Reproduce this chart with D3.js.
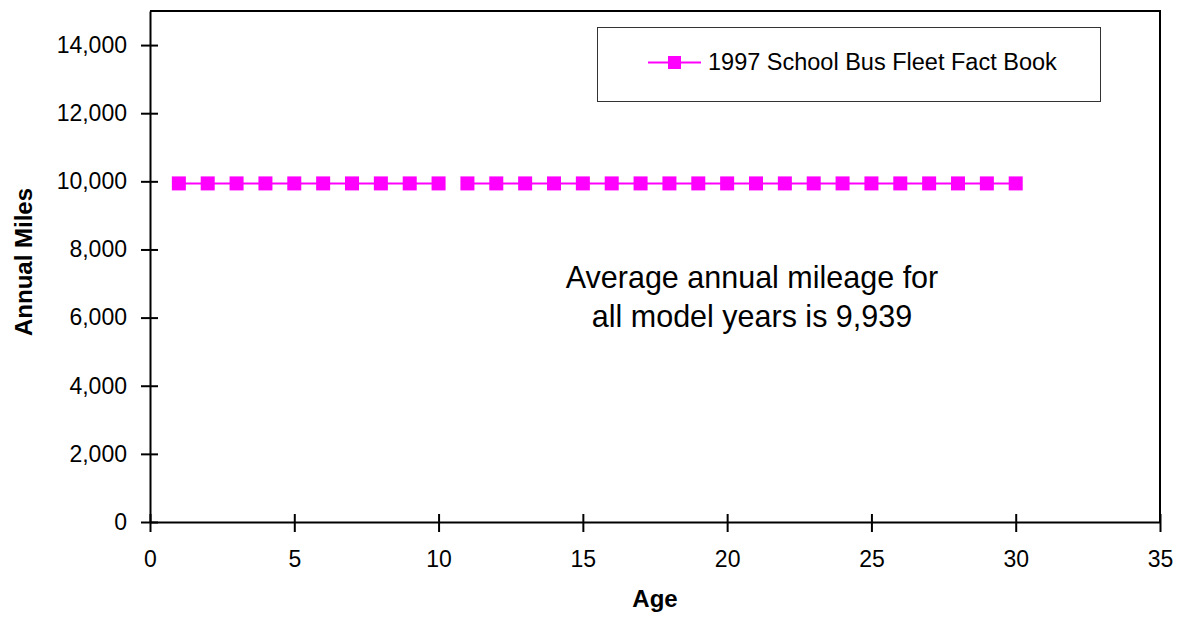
<!DOCTYPE html>
<html>
<head>
<meta charset="utf-8">
<script src="https://cdn.jsdelivr.net/npm/d3@7"></script>
<style>
  html, body { margin: 0; padding: 0; background: #fff; }
  svg { display: block; font-family: "Liberation Sans", Arial, sans-serif; }
</style>
</head>
<body>
<svg id="chart" width="1183" height="618"></svg>
<script>
// ---- Data ----
const ages = [1,2,3,4,5,6,7,8,9,10,11,12,13,14,15,16,17,18,19,20,21,22,23,24,25,26,27,28,29,30];
const annualMiles = [9939,9939,9939,9939,9939,9939,9939,9939,9939,9939,9939,9939,9939,9939,9939,9939,9939,9939,9939,9939,9939,9939,9939,9939,9939,9939,9939,9939,9939,9939];
const lineBreakAfterAge = 10; // connecting line is interrupted between age 10 and 11
const seriesName = "1997 School Bus Fleet Fact Book";
const xTicks = [0,5,10,15,20,25,30,35];
const yTicks = [0,2000,4000,6000,8000,10000,12000,14000];
const xTitle = "Age";
const yTitle = "Annual Miles";
const noteLines = ["Average annual mileage for", "all model years is 9,939"];

// ---- Layout ----
const svg = d3.select("#chart");
const pL = 150, pR = 1160, pT = 11, pB = 522;
const color = "#ff00ff";

const x = d3.scaleLinear().domain([0, 35]).range([pL, pR]);
const y = d3.scaleLinear().domain([0, 15000]).range([pB, pT]);

// plot frame (top + right)
svg.append("path")
  .attr("d", `M${pL},${pT}H${pR}V${pB}`)
  .attr("fill", "none").attr("stroke", "#000").attr("stroke-width", 2);

// y axis
const yAxis = svg.append("g").attr("transform", `translate(${pL},0)`)
  .call(d3.axisLeft(y).tickValues(yTicks).tickFormat(d3.format(",")).tickSizeOuter(0).tickSizeInner(0).tickPadding(23));
yAxis.select(".domain").attr("stroke", "#000").attr("stroke-width", 2);
yAxis.selectAll(".tick").append("line")
  .attr("x1", -9).attr("x2", 8).attr("stroke", "#000").attr("stroke-width", 2);
yAxis.selectAll("text").attr("font-size", 23).attr("fill", "#000")
  .attr("font-family", "Liberation Sans, Arial, sans-serif");

// x axis
const xAxis = svg.append("g").attr("transform", `translate(0,${pB})`)
  .call(d3.axisBottom(x).tickValues(xTicks).tickFormat(d3.format("d")).tickSizeOuter(0).tickSizeInner(0).tickPadding(29));
xAxis.select(".domain").attr("stroke", "#000").attr("stroke-width", 2);
xAxis.selectAll(".tick").append("line")
  .attr("y1", -8).attr("y2", 10).attr("stroke", "#000").attr("stroke-width", 2);
xAxis.selectAll("text").attr("font-size", 23).attr("fill", "#000")
  .attr("font-family", "Liberation Sans, Arial, sans-serif");

// axis titles
svg.append("text").attr("x", 655).attr("y", 607)
  .attr("text-anchor", "middle").attr("font-size", 24).attr("font-weight", "bold")
  .text(xTitle);
svg.append("text")
  .attr("transform", `translate(32,262) rotate(-90)`)
  .attr("text-anchor", "middle").attr("font-size", 24).attr("font-weight", "bold")
  .text(yTitle);

// series
const pts = ages.map((a, i) => ({ a, v: annualMiles[i] }));
const line = d3.line().x(d => x(d.a)).y(d => y(d.v));
const groups = [pts.filter(d => d.a <= lineBreakAfterAge), pts.filter(d => d.a > lineBreakAfterAge)];
svg.append("g").selectAll("path").data(groups).join("path")
  .attr("d", line).attr("fill", "none").attr("stroke", color).attr("stroke-width", 2);
const ms = 14;
svg.append("g").selectAll("rect").data(pts).join("rect")
  .attr("x", d => x(d.a) - ms / 2).attr("y", d => y(d.v) - ms / 2)
  .attr("width", ms).attr("height", ms).attr("fill", color);

// annotation
const note = svg.append("text").attr("text-anchor", "middle").attr("font-size", 30.5).attr("fill", "#000");
noteLines.forEach((t, i) => {
  note.append("tspan").attr("x", 752).attr("y", 288 + i * 39).text(t);
});

// legend
const lg = svg.append("g");
lg.append("rect").attr("x", 597.5).attr("y", 27.5).attr("width", 503).attr("height", 74)
  .attr("fill", "#fff").attr("stroke", "#333").attr("stroke-width", 1);
lg.append("line").attr("x1", 648).attr("x2", 701).attr("y1", 62.5).attr("y2", 62.5)
  .attr("stroke", color).attr("stroke-width", 2);
lg.append("rect").attr("x", 674.5 - 6.5).attr("y", 62.5 - 6.5).attr("width", 13).attr("height", 13).attr("fill", color);
lg.append("text").attr("x", 708).attr("y", 70).attr("font-size", 23.5).attr("fill", "#000")
  .text(seriesName);
</script>
</body>
</html>
